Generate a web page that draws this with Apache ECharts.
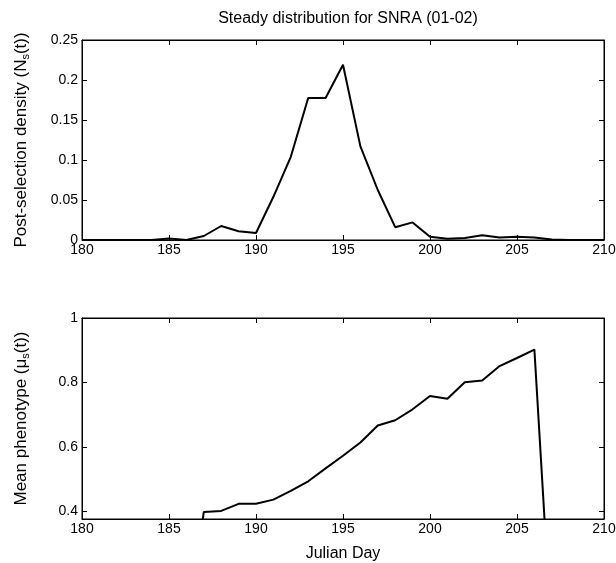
<!DOCTYPE html>
<html><head><meta charset="utf-8">
<script src="https://cdn.jsdelivr.net/npm/echarts@6/dist/echarts.min.js"></script>
<style>html,body{margin:0;padding:0;background:#fff}#c{width:616px;height:563px}</style>
</head><body><div id="c"></div>
<script>
const days = [180,181,182,183,184,185,186,187,188,189,190,191,192,193,194,195,196,197,198,199,200,201,202,203,204,205,206,207,208,209,210];
const density = [0,0,0,0,0,0.002,0,0.005,0.0175,0.011,0.0088,0.054,0.104,0.1775,0.1775,0.219,0.117,0.0625,0.016,0.022,0.004,0.0015,0.0025,0.006,0.003,0.004,0.003,0.0005,0,0,0];
const phenotype = [0,0,0,0,0,0,0,0.399,0.402,0.424,0.424,0.437,0.464,0.494,0.534,0.573,0.614,0.667,0.683,0.717,0.758,0.750,0.801,0.806,0.851,0.876,0.902,0,0,0,0];
const xTicks = [180,185,190,195,200,205,210];
const topYTicks = [0,0.05,0.1,0.15,0.2,0.25];
const botYTicks = [0.4,0.6,0.8,1];

const FONT = 'Liberation Sans, Arial, sans-serif';
function lbl(){ return {color:'#000', fontFamily: FONT, fontSize: 14}; }
function axLine(){ return {show:true, onZero:false, lineStyle:{color:'#000', width:1}}; }
function tick(vals){ return {show:true, inside:true, length:5, customValues:vals, lineStyle:{color:'#000'}}; }
const fmt = v => String(+(+v).toFixed(2));

function xAx(grid, showName){
  return [
    {type:'value', gridIndex:grid, min:180, max:210, position:'bottom',
     axisLine:axLine(), axisTick:tick(xTicks), splitLine:{show:false},
     axisLabel:Object.assign({margin:3, formatter:fmt, customValues:xTicks}, lbl()),
     name: showName ? 'Julian Day' : '', nameLocation:'middle', nameGap:27,
     nameTextStyle:{color:'#000', fontFamily:FONT, fontSize:16}},
    {type:'value', gridIndex:grid, min:180, max:210, position:'top',
     axisLine:axLine(), axisTick:tick(xTicks),
     axisLabel:{show:true, color:'rgba(0,0,0,0)', customValues:xTicks, formatter:fmt}, splitLine:{show:false}}
  ];
}
const richSub = {
  n:{fontFamily:FONT, fontSize:17, color:'#000'},
  s:{fontFamily:FONT, fontSize:11, color:'#000', padding:[8,0,0,0]}
};
function yPair(grid, ticks, min, max, name){
  return [
    {type:'value', gridIndex:grid, min:min, max:max, position:'left',
     axisLine:axLine(), axisTick:tick(ticks), splitLine:{show:false},
     axisLabel:Object.assign({margin:4, formatter:fmt, customValues:ticks}, lbl()),
     name:name, nameLocation:'middle', nameGap:51, nameRotate:90,
     nameTextStyle:{rich:richSub}},
    {type:'value', gridIndex:grid, min:min, max:max, position:'right',
     axisLine:axLine(), axisTick:tick(ticks),
     axisLabel:{show:true, color:'rgba(0,0,0,0)', customValues:ticks, formatter:fmt}, splitLine:{show:false}}
  ];
}
const gridBase = {show:true, borderColor:'#000', borderWidth:1, backgroundColor:'transparent',
  containLabel:false, outerBoundsMode:'none'};
const option = {
  animation:false,
  backgroundColor:'#fff',
  title:{text:'Steady distribution for SNRA (01-02)', left:343, top:6, textAlign:'center',
    textStyle:{color:'#000', fontFamily:FONT, fontSize:16, fontWeight:'normal'}},
  grid:[
    Object.assign({left:82, top:40, width:522, height:200}, gridBase),
    Object.assign({left:82, top:318, width:522, height:201}, gridBase)
  ],
  xAxis: xAx(0,false).concat(xAx(1,true)),
  yAxis: yPair(0, topYTicks, 0, 0.25, '{n|Post-selection density (N}{s|s}{n|(t))}')
    .concat(yPair(1, botYTicks, 0.377, 1, '{n|Mean phenotype (μ}{s|s}{n|(t))}')),
  series:[
    {type:'line', xAxisIndex:0, yAxisIndex:0, data:days.map((d,i)=>[d,density[i]]),
     showSymbol:false, lineStyle:{color:'#000', width:2}, clip:true},
    {type:'line', xAxisIndex:2, yAxisIndex:2, data:days.map((d,i)=>[d,phenotype[i]]),
     showSymbol:false, lineStyle:{color:'#000', width:2}, clip:true}
  ]
};
echarts.init(document.getElementById('c'), null, {renderer:'canvas'}).setOption(option);
</script></body></html>
